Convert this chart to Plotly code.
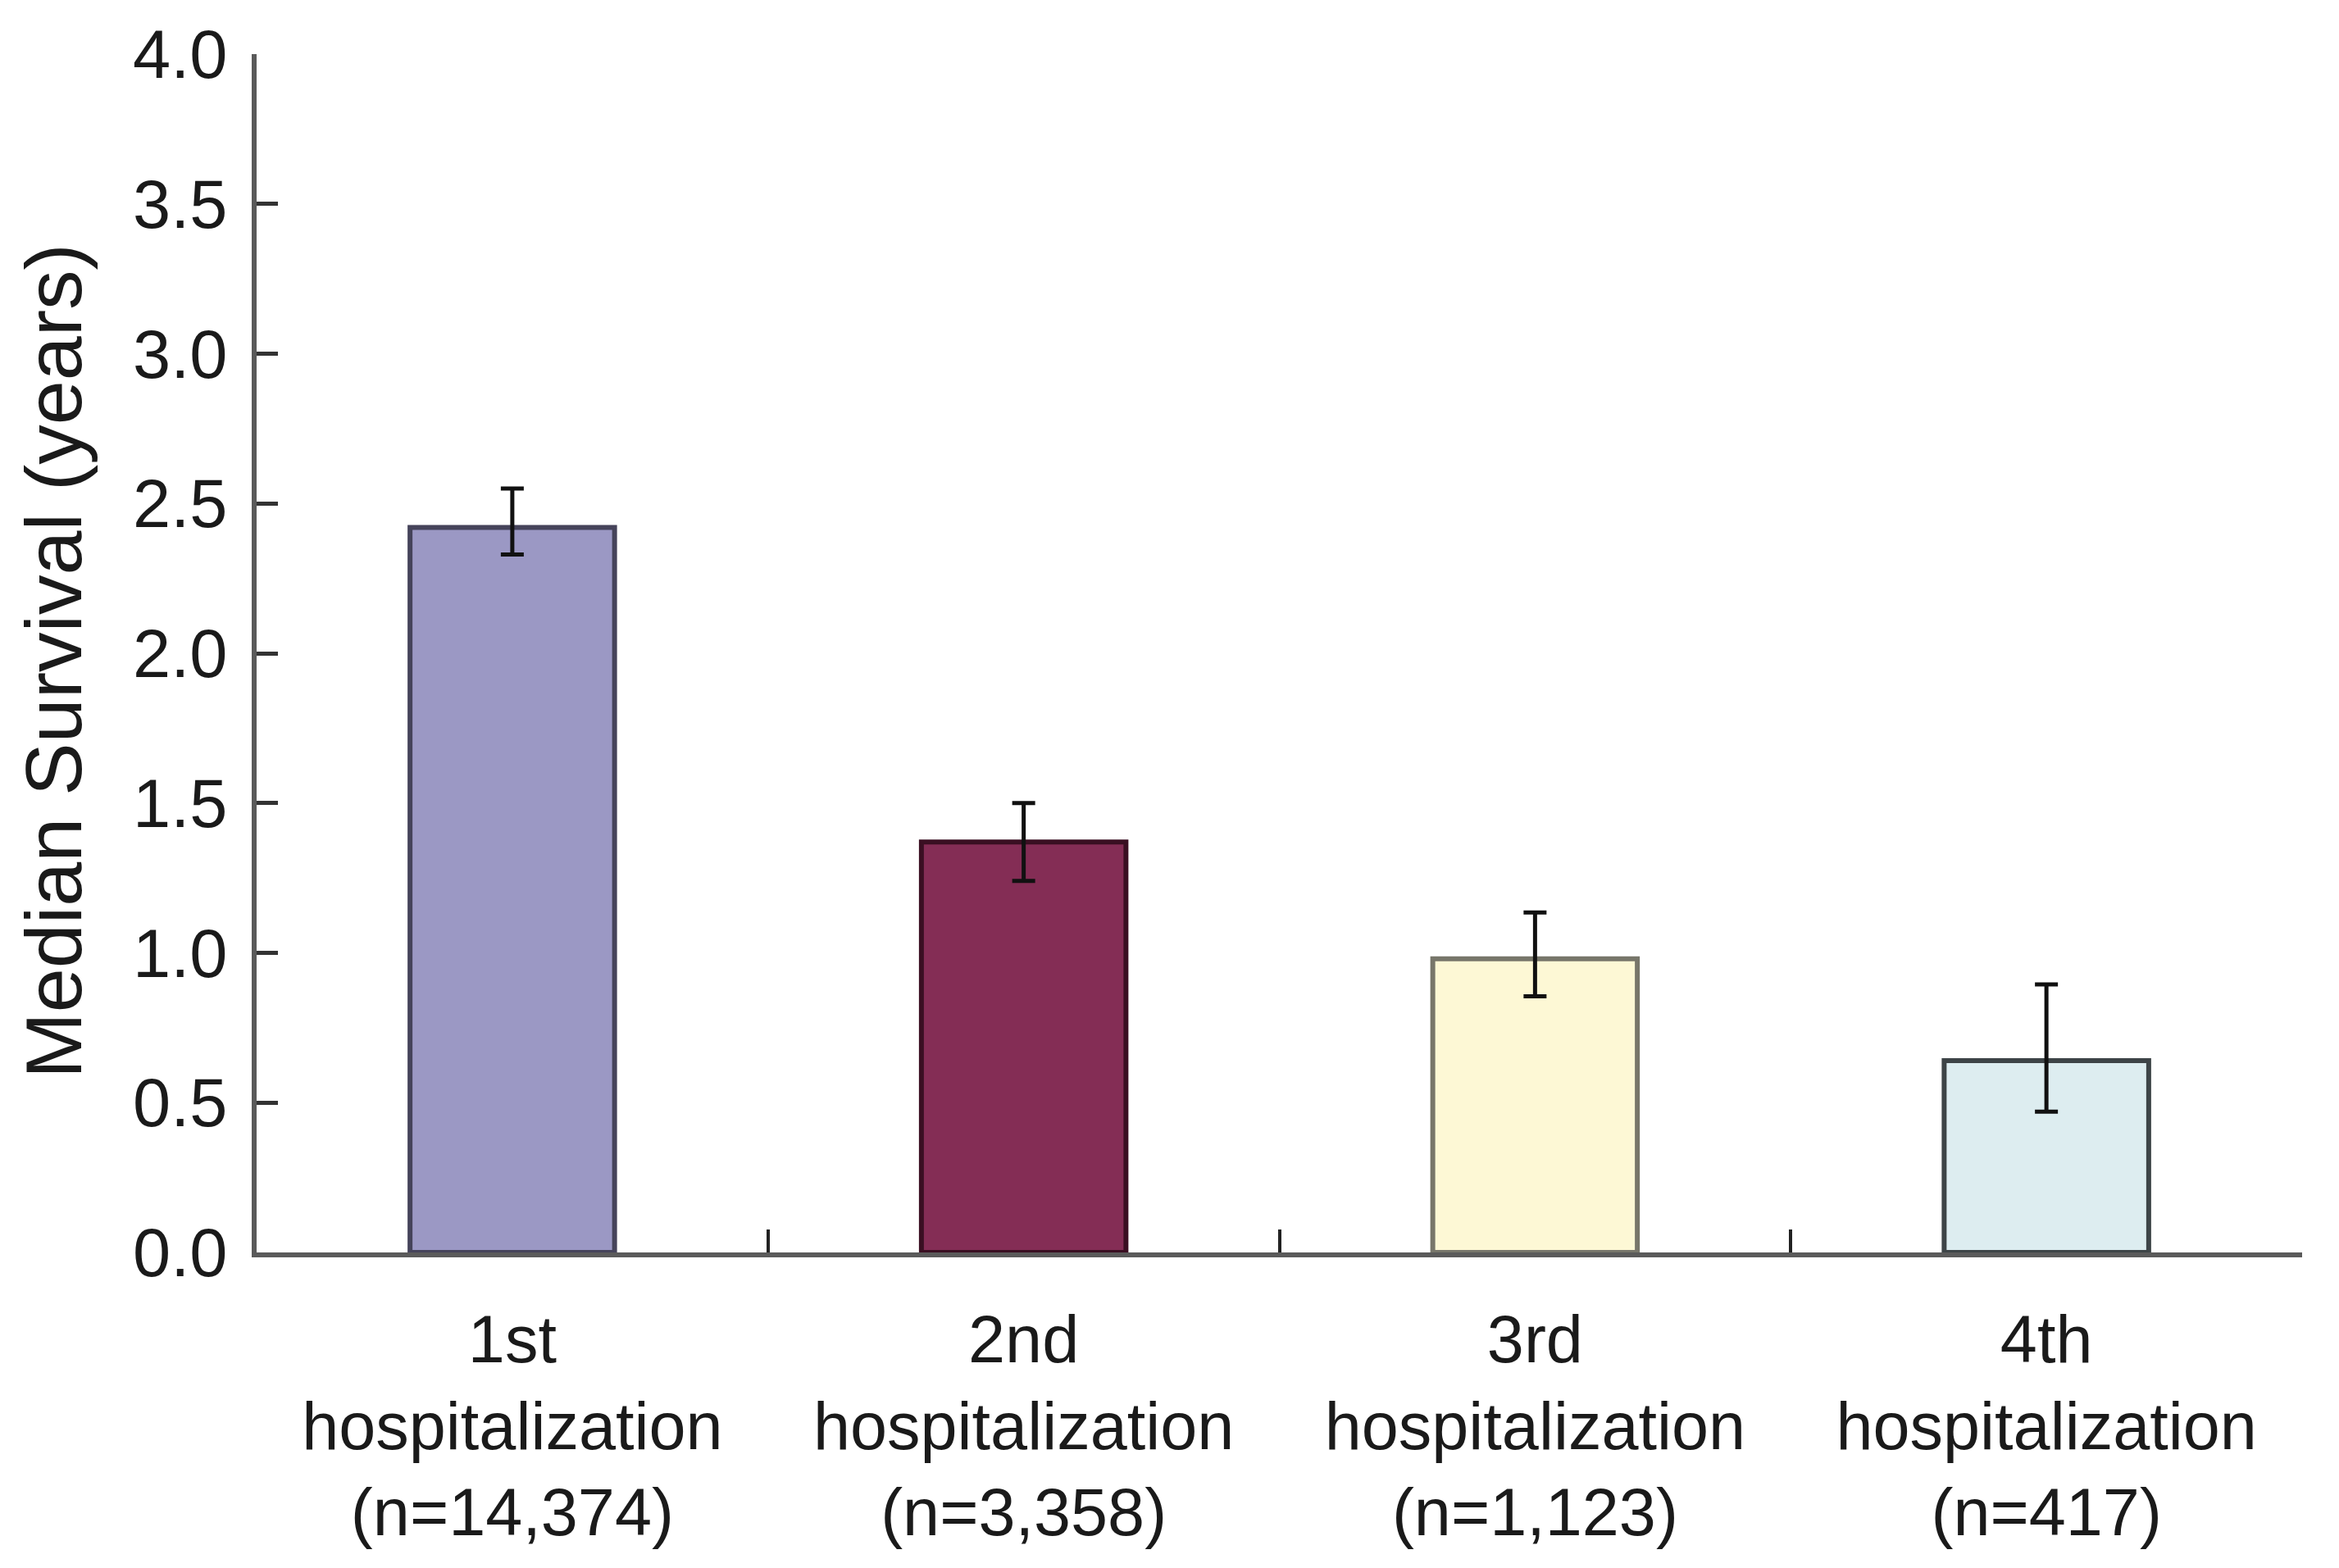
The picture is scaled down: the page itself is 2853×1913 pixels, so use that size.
import plotly.graph_objects as go

categories = ["1st<br>hospitalization<br>(n=14,374)",
              "2nd<br>hospitalization<br>(n=3,358)",
              "3rd<br>hospitalization<br>(n=1,123)",
              "4th<br>hospitalization<br>(n=417)"]
median_survival = [2.42, 1.37, 0.98, 0.64]
ci_upper = [2.55, 1.50, 1.135, 0.895]
ci_lower = [2.33, 1.24, 0.855, 0.47]
bar_colors = ["#9b98c4", "#842d55", "#fdf8d5", "#ddedf0"]
bar_line_colors = ["#45435a", "#3a0f22", "#77766a", "#3d4447"]
y_ticks = [0.0, 0.5, 1.0, 1.5, 2.0, 2.5, 3.0, 3.5, 4.0]

err_plus = [u - v for u, v in zip(ci_upper, median_survival)]
err_minus = [v - l for v, l in zip(median_survival, ci_lower)]

FONT = "Liberation Sans, Arial, sans-serif"

fig = go.Figure()
fig.add_trace(go.Bar(
    x=categories,
    y=median_survival,
    width=0.4,
    marker=dict(color=bar_colors, line=dict(color=bar_line_colors, width=6)),
    error_y=dict(type="data", symmetric=False, array=err_plus, arrayminus=err_minus,
                 color="#111111", thickness=5, width=14),
    showlegend=False,
))

# page body has an 8px default margin, so the figure is sized to fit inside it
W, H = 2837, 1897
L, R, T, B = 305, 37, 58, 377

fig.update_layout(
    width=W, height=H,
    margin=dict(l=L, r=R, t=T, b=B, autoexpand=False),
    paper_bgcolor="white", plot_bgcolor="white",
    font=dict(family=FONT, color="#1a1a1a"),
)
fig.update_xaxes(
    type="category", range=[-0.5, 3.5],
    showline=True, linecolor="#5a5a5a", linewidth=6,
    ticks="inside", tickson="boundaries", ticklen=28, tickwidth=4, tickcolor="#222222",
    tickfont=dict(size=81, family=FONT, color="#1a1a1a"),
    showgrid=False, zeroline=False, automargin=False,
    ticklabelstandoff=31,
)
fig.update_yaxes(
    range=[0, 4], tickvals=y_ticks, ticktext=[f"{v:.1f}" for v in y_ticks],
    showline=True, linecolor="#5a5a5a", linewidth=6,
    ticks="inside", ticklen=26, tickwidth=5, tickcolor="#333333",
    tickfont=dict(size=83, family=FONT, color="#1a1a1a"),
    showgrid=False, zeroline=False, automargin=False,
    ticklabelstandoff=13,
)

fig.add_annotation(
    text="Median Survival (years)", textangle=-90,
    xref="paper", yref="paper",
    x=(57 - L) / (W - L - R), y=(H - B - 799) / (H - B - T),
    xanchor="center", yanchor="middle", showarrow=False,
    font=dict(size=97, family=FONT, color="#1a1a1a"),
)

fig.write_html("out.html")
